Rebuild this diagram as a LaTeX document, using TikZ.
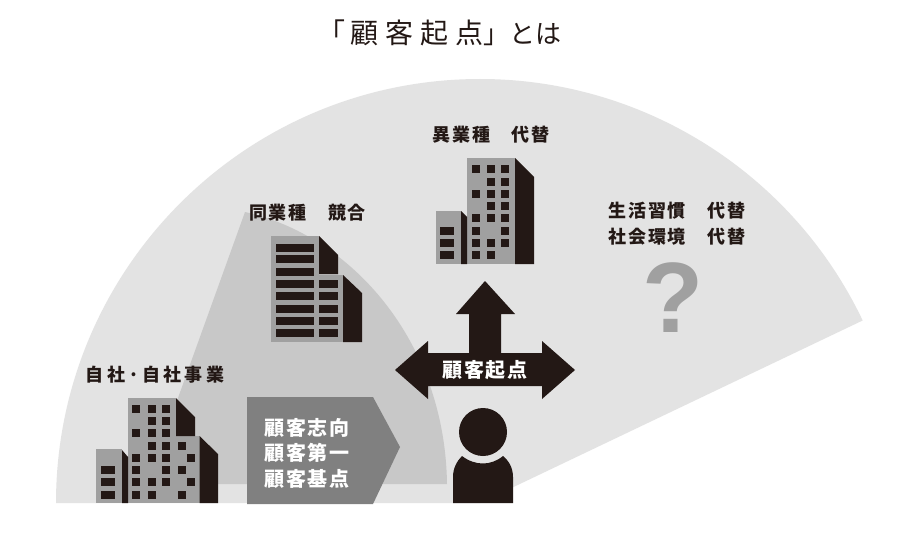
\documentclass[tikz,border=0pt]{standalone}
\usepackage{fontspec}
\usepackage{tikz}
\setmainfont{Noto Sans CJK JP}
\newfontfamily\labelfont[LetterSpace=10]{Noto Sans CJK JP}
\newfontfamily\ownfont[LetterSpace=18]{Noto Sans CJK JP}
\newfontfamily\whitefont[LetterSpace=8]{Noto Sans CJK JP}
\newfontfamily\titlefont[LetterSpace=25]{Noto Sans CJK JP}
\newfontfamily\kanafont{Noto Sans CJK JP}
\definecolor{fanlight}{HTML}{E3E3E3}
\definecolor{fanmid}{HTML}{C8C8C8}
\definecolor{wall}{HTML}{A0A0A0}
\definecolor{ink}{HTML}{231815}
\definecolor{chevron}{HTML}{808080}

\begin{document}
\begin{tikzpicture}[x=1pt,y=-1pt,
        wall/.style={fill=wall},
        shade/.style={fill=ink},
        window/.style={fill=ink},
        label/.style={inner sep=0pt,text=ink,align=center,font=\labelfont\fontsize{18}{26}\selectfont\bfseries},
        whitelabel/.style={inner sep=0pt,text=white,align=center,font=\whitefont\fontsize{20}{25.5}\selectfont\bfseries}]
    \useasboundingbox (0,0) rectangle (900,543);
    \fill[white] (0,0) rectangle (900,543);
    \fill[fanlight] (480,503) -- (56,503) arc[start angle=180,end angle=25.5,radius=424pt] -- cycle;
    \fill[fanmid] (245,212) .. controls (350,235) and (445,340) .. (447,484) -- (147,484) -- cycle;

    \node[inner sep=0pt,text=ink,anchor=west] (title) at (317,33) {{\titlefont\fontsize{28}{30}\selectfont 「\kern5pt 顧客起点}{\kanafont\fontsize{26}{30}\selectfont 」とは}};

    \node[label,font=\ownfont\fontsize{18}{26}\selectfont\bfseries] (own) at (155,375) {自社·自社事業};
    \fill[wall] (128,398) rectangle (176,503);
    \fill[wall] (176,436) rectangle (199.5,503);
    \fill[shade] (176,398) -- (195,417) -- (195,436) -- (176,436) -- cycle;
    \fill[shade] (199.5,436) -- (218,454) -- (218,503) -- (199.5,503) -- cycle;
    \fill[wall] (96,449) rectangle (122,503);
    \fill[shade] (122,450) -- (128,457) -- (128,503) -- (122,503) -- cycle;
    \foreach \wx/\wy in {136/409,152/409,166/409,152/421,166/421,136/433,152/433,166/433,
            152/446,166/446,182/446,136/458,152/458,166/458,191/458,136/470,166/470,182/470,
            136/482,152/482,166/482,191/482,136/495,152/495,182/495}
        \fill[window] (\wx-4,\wy-4) rectangle (\wx+4,\wy+4);
    \foreach \wy in {470,482,495}
        \fill[window] (101,\wy-4) rectangle (115,\wy+4);

    \node[label] (rival) at (307.5,213) {同業種　競合};
    \fill[wall] (271,236) rectangle (319,342);
    \fill[wall] (319,275) rectangle (343,342);
    \fill[shade] (319,236) -- (338,255) -- (338,274) -- (319,274) -- cycle;
    \fill[shade] (343,275) -- (362,293) -- (362,342) -- (343,342) -- cycle;
    \foreach \wy in {247.5,259,272,284,296,309,320.5,333}
        \fill[window] (276,\wy-4) rectangle (314,\wy+4);
    \foreach \wy in {284,296,309,320.5,333}
        \fill[window] (319,\wy-4) rectangle (338,\wy+4);

    \node[label] (other) at (491,135) {異業種　代替};
    \fill[wall] (467,158) rectangle (515,264);
    \fill[shade] (515,158) -- (534,177) -- (534,264) -- (515,264) -- cycle;
    \fill[wall] (436,211) rectangle (461,264);
    \fill[shade] (461,211) -- (467,217) -- (467,264) -- (461,264) -- cycle;
    \foreach \wx/\wy in {476/169,491/169,505/169,491/182,505/182,476/194,491/194,505/194,
            491/206,505/206,476/218,491/218,505/218,476/231,505/231,476/243,491/243,505/243,
            476/255,491/255}
        \fill[window] (\wx-4,\wy-4) rectangle (\wx+4,\wy+4);
    \foreach \wy in {231,243,255}
        \fill[window] (440,\wy-4) rectangle (454,\wy+4);

    \node[label] (life) at (677,224) {生活習慣　代替\\社会環境　代替};
    \node[inner sep=0pt,text=wall,font=\fontspec{Liberation Sans}\bfseries\fontsize{100}{100}\selectfont] (question) at (673,298) {?};

    \fill[chevron] (247,397) -- (373,397) -- (400,447) -- (373,504) -- (247,504) -- cycle;
    \node[whitelabel] (stance) at (307,453) {顧客志向\\顧客第一\\顧客基点};

    \fill[ink] (395,370) -- (428,341) -- (428,353) -- (469,353) -- (469,314) -- (456,314) -- (485,281)
        -- (515,314) -- (501,314) -- (501,353) -- (542,353) -- (542,341) -- (575,370) -- (542,399)
        -- (542,386) -- (428,386) -- (428,399) -- cycle;
    \node[whitelabel] (origin) at (485,370) {顧客起点};

    \fill[ink] (483,432) circle[radius=24pt];
    \fill[ink] (453,503) -- (453,477) .. controls (453,468) and (457,461) .. (462,456)
        .. controls (475,466) and (491,466) .. (503,456) .. controls (509,461) and (513,468) .. (513,477)
        -- (513,503) -- cycle;
\end{tikzpicture}
\end{document}
